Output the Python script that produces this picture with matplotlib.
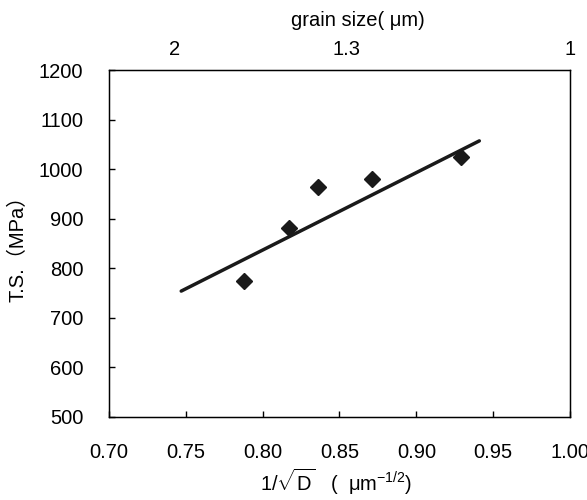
import numpy as np
import matplotlib.pyplot as plt

plt.rcParams['font.family'] = ['Liberation Sans', 'Noto Sans CJK JP']
plt.rcParams['mathtext.fontset'] = 'custom'
plt.rcParams['mathtext.rm'] = 'Liberation Sans'
plt.rcParams['mathtext.it'] = 'Liberation Sans:italic'

# datos
inv_raiz_d = [0.788, 0.817, 0.836, 0.871, 0.929]
ts = [775, 882, 964, 980, 1025]
linea_x = [0.747, 0.941]
linea_y = [754, 1057]
top_pos = [0.743, 0.855, 1.001]
top_labels = ["2", "1.3", "1"]

fs = 14.5
fig = plt.figure(figsize=(5.87, 5.0), dpi=100)
ax = fig.add_axes([0.1857, 0.166, 0.7853, 0.694])

ax.plot(linea_x, linea_y, color="#1a1a1a", lw=2.5, solid_capstyle="round")
ax.plot(inv_raiz_d, ts, "D", color="#1a1a1a", markersize=8.5)

ax.set_xlim(0.70, 1.00)
ax.set_ylim(500, 1200)
ax.set_xticks(np.arange(0.70, 1.001, 0.05))
ax.set_xticklabels(["%.2f" % v for v in np.arange(0.70, 1.001, 0.05)])
ax.set_yticks(range(500, 1201, 100))
ax.tick_params(direction="in", length=4, width=1, labelsize=fs)
ax.tick_params(axis="x", pad=19)
ax.tick_params(axis="y", pad=18.5)
for s in ax.spines.values():
    s.set_linewidth(1)

ax.set_ylabel("T.S.（MPa）", fontsize=fs, labelpad=8)
ax.set_xlabel(r"1/$\sqrt{\mathrm{D}}$   (  μm$^{\mathrm{-1/2}}$)", fontsize=fs, labelpad=3)
ax.xaxis.label.set_x((336 - 109) / 461)

# eje superior: tamano de grano
ax2 = ax.twiny()
ax2.set_xlim(ax.get_xlim())
ax2.set_xticks(top_pos)
ax2.set_xticklabels(top_labels)
ax2.tick_params(length=0, labelsize=fs, pad=8)
ax2.set_xlabel("grain size( μm)", fontsize=fs, labelpad=10)
ax2.xaxis.label.set_x((358 - 109) / 461)

fig.savefig("out.png", dpi=100)
